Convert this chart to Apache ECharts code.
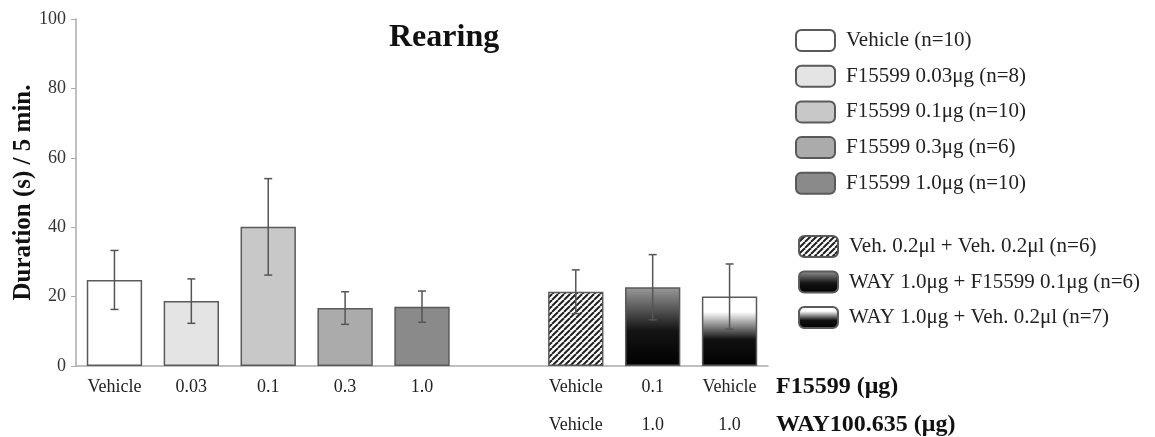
<!DOCTYPE html>
<html>
<head>
<meta charset="utf-8">
<script src="https://cdn.jsdelivr.net/npm/echarts@6/dist/echarts.min.js"></script>
<style>
  html, body { margin: 0; padding: 0; background: #fff; }
  #chart { width: 1155px; height: 437px; }
</style>
</head>
<body>
<div id="chart"></div>
<script>
// Rearing duration per treatment group (mean ± SEM)
const f15599Labels = ['Vehicle', '0.03', '0.1', '0.3', '1.0', '', 'Vehicle', '0.1', 'Vehicle'];
const wayLabels    = ['', '', '', '', '', '', 'Vehicle', '1.0', '1.0'];
const groupNames = [
  'Vehicle (n=10)',
  'F15599 0.03μg (n=8)',
  'F15599 0.1μg (n=10)',
  'F15599 0.3μg (n=6)',
  'F15599 1.0μg (n=10)',
  'Veh. 0.2μl + Veh. 0.2μl (n=6)',
  'WAY 1.0μg + F15599 0.1μg (n=6)',
  'WAY 1.0μg + Veh. 0.2μl (n=7)'
];
const groupSlot = [0, 1, 2, 3, 4, 6, 7, 8];
const means = [24.8, 18.7, 40.1, 16.7, 17.1, 21.4, 22.7, 20.0];
const sems  = [8.5, 6.4, 13.9, 4.7, 4.5, 6.3, 9.4, 9.4];
const yTicks = [0, 20, 40, 60, 80, 100];

// diagonal hatch for the double-vehicle group
function hatchPattern() {
  const s = 6;
  const c = document.createElement('canvas');
  c.width = s; c.height = s;
  const g = c.getContext('2d');
  g.fillStyle = '#fff';
  g.fillRect(0, 0, s, s);
  g.strokeStyle = '#222';
  g.lineWidth = 2;
  for (const k of [-s, 0, s]) {
    g.beginPath();
    g.moveTo(k, s);
    g.lineTo(k + s, 0);
    g.stroke();
  }
  return { image: c, repeat: 'repeat' };
}

function vGrad(stops) {
  return new echarts.graphic.LinearGradient(0, 0, 0, 1,
    stops.map(([offset, color]) => ({ offset, color })));
}

const fills = [
  '#ffffff',
  '#e4e4e4',
  '#c8c8c8',
  '#ababab',
  '#8a8a8a',
  hatchPattern(),
  vGrad([[0, '#9a9a9a'], [0.55, '#141414'], [1, '#000']]),
  vGrad([[0, '#ffffff'], [0.22, '#ffffff'], [0.62, '#111'], [1, '#000']])
];

const serif = '"Liberation Serif", "Times New Roman", serif';

const barSeries = groupNames.map((name, i) => {
  const data = f15599Labels.map(() => '-');
  data[groupSlot[i]] = means[i];
  return {
    name,
    type: 'bar',
    data,
    barWidth: '72%',
    barGap: '-100%',
    itemStyle: { color: fills[i], borderColor: '#5a5a5a', borderWidth: 1.5 },
    emphasis: { disabled: true },
    z: 2
  };
});

const errData = means.map((m, i) => [groupSlot[i], m, sems[i]]);

const errSeries = {
  type: 'custom',
  name: 'sem',
  data: errData,
  z: 5,
  renderItem(params, api) {
    const x = api.value(0), m = api.value(1), e = api.value(2);
    const top = api.coord([x, m + e]);
    const bot = api.coord([x, m - e]);
    const cap = 4;
    const style = { stroke: '#555', lineWidth: 1.5 };
    return {
      type: 'group',
      children: [
        { type: 'line', shape: { x1: top[0], y1: top[1], x2: bot[0], y2: bot[1] }, style },
        { type: 'line', shape: { x1: top[0] - cap, y1: top[1], x2: top[0] + cap, y2: top[1] }, style },
        { type: 'line', shape: { x1: bot[0] - cap, y1: bot[1], x2: bot[0] + cap, y2: bot[1] }, style }
      ]
    };
  }
};

const legendText = { fontFamily: serif, fontSize: 21, color: '#222', padding: [0, 0, 0, 6] };
const rowTitle = { fontFamily: serif, fontSize: 24, fontWeight: 'bold', color: '#111', verticalAlign: 'top', padding: [9, 0, 0, 0] };
const tickFont = { fontFamily: serif, fontSize: 18, color: '#222' };

const option = {
  animation: false,
  backgroundColor: '#fff',
  title: {
    text: 'Rearing',
    left: 384,
    top: 17,
    textStyle: { fontFamily: serif, fontSize: 32, fontWeight: 'bold', color: '#111' }
  },
  legend: [
    {
      data: groupNames.slice(0, 5),
      orient: 'vertical',
      left: 790,
      top: 24,
      icon: 'roundRect',
      itemWidth: 39,
      itemHeight: 21,
      itemGap: 12.7,
      textStyle: legendText,
      selectedMode: false
    },
    {
      data: groupNames.slice(5),
      orient: 'vertical',
      left: 793,
      top: 230,
      icon: 'roundRect',
      itemWidth: 39,
      itemHeight: 21,
      itemGap: 12.5,
      textStyle: legendText,
      selectedMode: false
    }
  ],
  grid: { left: 76, right: 387, top: 19, bottom: 71, containLabel: false, outerBoundsMode: 'none' },
  xAxis: [
    {
      type: 'category',
      data: f15599Labels,
      axisLine: { lineStyle: { color: '#aaa', width: 1.5 } },
      axisTick: { show: false },
      axisLabel: Object.assign({ interval: 0, margin: 12 }, tickFont),
      name: 'F15599 (μg)',
      nameLocation: 'end',
      nameGap: 8,
      nameTextStyle: rowTitle
    },
    {
      type: 'category',
      position: 'bottom',
      offset: 38,
      data: wayLabels,
      axisLine: { show: false },
      axisTick: { show: false },
      axisLabel: Object.assign({ interval: 0, margin: 12 }, tickFont),
      name: 'WAY100.635 (μg)',
      nameLocation: 'end',
      nameGap: 8,
      nameTextStyle: rowTitle
    }
  ],
  yAxis: {
    type: 'value',
    min: yTicks[0],
    max: yTicks[yTicks.length - 1],
    interval: yTicks[1] - yTicks[0],
    name: 'Duration (s) / 5 min.',
    nameLocation: 'middle',
    nameRotate: 90,
    nameGap: 40,
    nameMoveOverlap: false,
    nameTextStyle: { fontFamily: serif, fontSize: 25, fontWeight: 'bold', color: '#111' },
    axisLine: { show: true, lineStyle: { color: '#aaa', width: 1.5 } },
    axisTick: { show: true, length: 5, lineStyle: { color: '#aaa' } },
    axisLabel: { margin: 10, fontFamily: serif, fontSize: 18, color: '#333' },
    splitLine: { show: false }
  },
  series: [...barSeries, errSeries]
};

const chart = echarts.init(document.getElementById('chart'), null, { renderer: 'canvas' });
chart.setOption(option);
</script>
</body>
</html>
